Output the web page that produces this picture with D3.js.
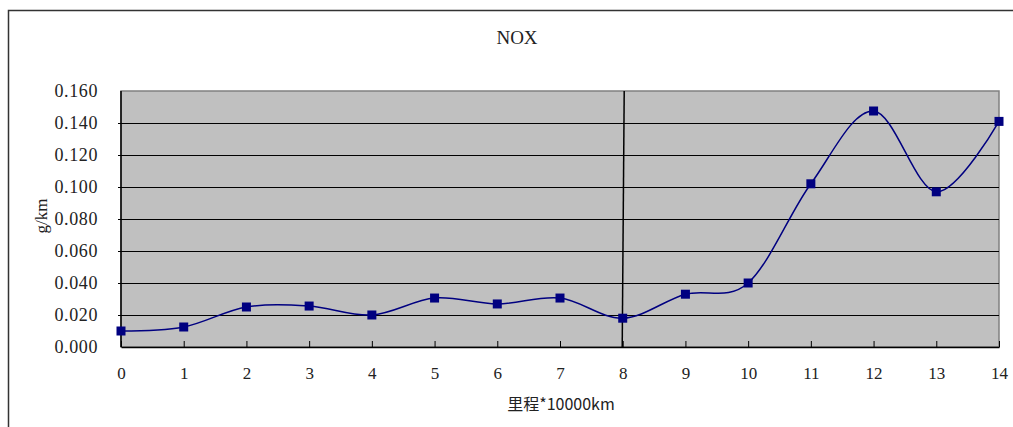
<!DOCTYPE html>
<html><head><meta charset="utf-8">
<script src="https://cdn.jsdelivr.net/npm/d3@7/dist/d3.min.js"></script>
<style>body{margin:0;background:#fff}svg{display:block}
.serif{font-family:"Liberation Serif","Times New Roman","DejaVu Serif",serif}
.cjk{font-family:"Noto Sans CJK SC",sans-serif}
</style>
</head><body>
<script>
const title = "NOX";
const xTitle = "里程*10000km";
const yTitle = "g/km";
const categories = [0,1,2,3,4,5,6,7,8,9,10,11,12,13,14];
const values = [0.010,0.0125,0.025,0.0256,0.020,0.0306,0.0269,0.0306,0.018,0.033,0.040,0.102,0.1475,0.097,0.141];
const yTicks = [0,0.02,0.04,0.06,0.08,0.10,0.12,0.14,0.16];
const yTickLabels = ["0.000","0.020","0.040","0.060","0.080","0.100","0.120","0.140","0.160"];
const markerLine = 8;

const W=1013,H=427;
const svg=d3.select("body").append("svg").attr("width",W).attr("height",H);
const L=121,R=999,T=91,B=347;
const x=d3.scaleLinear().domain([0,14]).range([L,R]);
const y=d3.scaleLinear().domain([0,0.16]).range([B,T]);

// outer border
svg.append("path").attr("d",`M8.5,${H+2} V10.5 H${W+2}`).attr("fill","none").attr("stroke","#333").attr("stroke-width",1.5);

// plot area
svg.append("rect").attr("x",L).attr("y",T).attr("width",R-L).attr("height",B-T).attr("fill","#c0c0c0").attr("stroke","#808080").attr("stroke-width",1.5);

// gridlines
svg.append("g").selectAll("line").data(yTicks.slice(1,-1)).join("line")
  .attr("x1",L-3).attr("x2",R).attr("y1",d=>Math.round(y(d))+0.5).attr("y2",d=>Math.round(y(d))+0.5)
  .attr("stroke","#000").attr("stroke-width",1);

// y axis
const ya=svg.append("g").attr("transform",`translate(${L},0)`)
  .call(d3.axisLeft(y).tickValues(yTicks).tickFormat((d,i)=>yTickLabels[i]).tickSize(0).tickPadding(23));
ya.attr("font-family",null).attr("font-size",null);
ya.select(".domain").remove();
ya.selectAll("text").attr("class","serif").style("font-size","18px").attr("fill","#222").attr("letter-spacing","0.6");

// x axis
const xa=svg.append("g").attr("transform",`translate(0,${B})`)
  .call(d3.axisBottom(x).tickValues(categories).tickSizeInner(-6).tickSizeOuter(0).tickPadding(20));
xa.attr("font-family",null).attr("font-size",null);
xa.select(".domain").attr("stroke","#000").attr("stroke-width",1.5);
xa.selectAll(".tick line").attr("stroke","#000");
xa.selectAll("text").attr("class","serif").style("font-size","17px").attr("fill","#222");
svg.append("line").attr("x1",L).attr("x2",L).attr("y1",T).attr("y2",B).attr("stroke","#000").attr("stroke-width",1.5);

// vertical marker line
svg.append("line").attr("x1",x(markerLine)+1.5).attr("x2",x(markerLine)-0.5).attr("y1",T).attr("y2",B)
  .attr("stroke","#000").attr("stroke-width",1.5);

// series line
const line=d3.line().x((d,i)=>x(categories[i])).y(d=>y(d)).curve(d3.curveCatmullRom.alpha(0));
svg.append("path").datum(values).attr("d",line).attr("fill","none").attr("stroke","#000080").attr("stroke-width",1.5);

// markers
svg.append("g").selectAll("rect").data(values).join("rect")
  .attr("x",(d,i)=>x(categories[i])-4.5).attr("y",d=>y(d)-4.5).attr("width",9).attr("height",9)
  .attr("fill","#000080");

// titles
svg.append("text").attr("class","serif").attr("x",517).attr("y",44).attr("text-anchor","middle").style("font-size","19px").attr("fill","#222").text(title);
svg.append("text").attr("class","cjk").attr("x",561).attr("y",410).attr("text-anchor","middle").style("font-size","16px").attr("fill","#222").text(xTitle);
svg.append("text").attr("class","serif").attr("transform","translate(47,216) rotate(-90)").attr("text-anchor","middle").style("font-size","17px").attr("fill","#222").text(yTitle);
</script>
</body></html>
